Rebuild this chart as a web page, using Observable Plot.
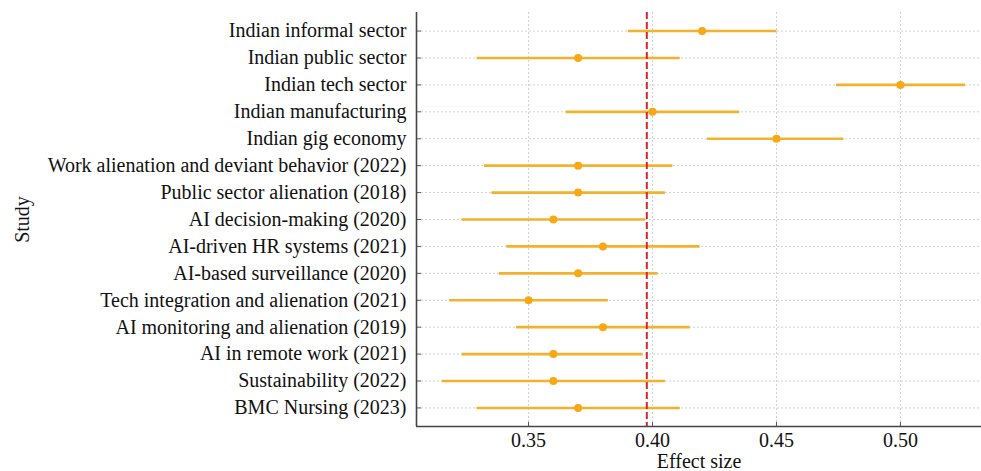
<!DOCTYPE html>
<html>
<head>
<meta charset="utf-8">
<script src="https://cdn.jsdelivr.net/npm/d3@7"></script>
<script src="https://cdn.jsdelivr.net/npm/@observablehq/plot@0.6"></script>
<style>
  html, body { margin: 0; padding: 0; background: #fff; }
  #chart svg { display: block; }
</style>
</head>
<body>
<div id="chart"></div>
<script>
const studies = [
  "Indian informal sector",
  "Indian public sector",
  "Indian tech sector",
  "Indian manufacturing",
  "Indian gig economy",
  "Work alienation and deviant behavior (2022)",
  "Public sector alienation (2018)",
  "AI decision-making (2020)",
  "AI-driven HR systems (2021)",
  "AI-based surveillance (2020)",
  "Tech integration and alienation (2021)",
  "AI monitoring and alienation (2019)",
  "AI in remote work (2021)",
  "Sustainability (2022)",
  "BMC Nursing (2023)"
];
const effect = [0.42, 0.37, 0.50, 0.40, 0.45, 0.37, 0.37, 0.36, 0.38, 0.37, 0.35, 0.38, 0.36, 0.36, 0.37];
const lower  = [0.390, 0.329, 0.474, 0.365, 0.422, 0.332, 0.335, 0.323, 0.341, 0.338, 0.318, 0.345, 0.323, 0.315, 0.329];
const upper  = [0.450, 0.411, 0.526, 0.435, 0.477, 0.408, 0.405, 0.397, 0.419, 0.402, 0.382, 0.415, 0.396, 0.405, 0.411];
const pooled = [0.3977];
const xTicks = [0.35, 0.40, 0.45, 0.50];
const xDomain = [0.3048, 0.5327];

const rows = studies.map((s, i) => ({study: s, effect: effect[i], lower: lower[i], upper: upper[i]}));

const font = "'Liberation Serif', 'Times New Roman', serif";
const gridStyle = {stroke: "#c4c4c4", strokeOpacity: 1, strokeWidth: 0.8, strokeDasharray: "2,2"};

const chart = Plot.plot({
  width: 981,
  height: 471,
  marginLeft: 416,
  marginRight: 0,
  marginTop: 12,
  marginBottom: 45,
  style: {fontFamily: font, fontSize: "20px", color: "#111", background: "#fff"},
  x: {domain: xDomain, ticks: xTicks},
  y: {domain: studies, type: "point", padding: 0.69, round: false},
  marks: [
    Plot.gridX(xTicks, gridStyle),
    Plot.gridY(studies, {...gridStyle, insetLeft: 5}),
    Plot.axisX(xTicks, {tickSize: -4, tickPadding: 10, tickFormat: d3.format(".2f"), stroke: "#555",
      label: "Effect size", labelAnchor: "center", labelArrow: "none", labelOffset: 41, fontSize: 20}),
    Plot.axisY({tickSize: -5, tickPadding: 15, stroke: "#555",
      label: "Study", labelAnchor: "center", labelArrow: "none", labelOffset: 402, fontSize: 20}),
    Plot.ruleX([xDomain[0]], {stroke: "#444", strokeWidth: 1.6}),
    Plot.ruleY([studies[studies.length - 1]], {stroke: "#444", strokeWidth: 1.6, dy: 18.6}),
    Plot.link(rows, {x1: "lower", x2: "upper", y1: "study", y2: "study", stroke: "#f3b22e", strokeWidth: 2.6}),
    Plot.ruleX(pooled, {stroke: "#d9262b", strokeWidth: 2, strokeDasharray: "7,3"}),
    Plot.dot(rows, {x: "effect", y: "study", r: 4, fill: "#f7a814", stroke: "none"})
  ]
});
document.getElementById("chart").appendChild(chart);
</script>
</body>
</html>
